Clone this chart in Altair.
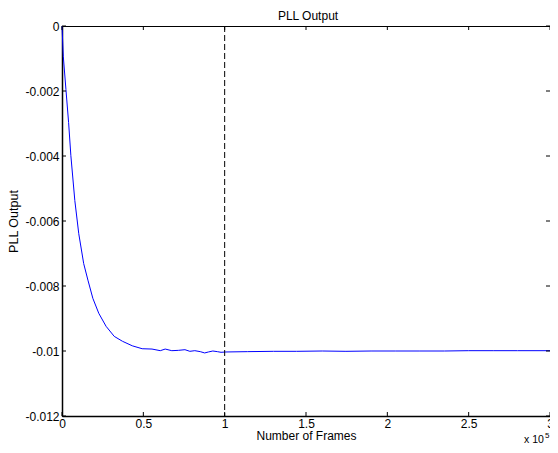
import altair as alt
import pandas as pd

# PLL output curve (frames, value)
frames = [0, 790, 2420, 4060, 5450, 7880, 10300, 13330, 15940, 18970, 22610,
          27090, 32120, 37150, 43210, 49270, 55330, 60420, 63450, 67500, 71520,
          75580, 78600, 81640, 85000, 87700, 90000, 92730, 95500, 97760, 100790,
          113940, 130000, 144240, 160000, 174550, 190000, 204850, 220000,
          235150, 250000, 265460, 280000, 300000]
values = [0.0, -0.00093, -0.00195, -0.00297, -0.00399, -0.00537, -0.00639,
          -0.00731, -0.00782, -0.00838, -0.00884, -0.00924, -0.00955, -0.00970,
          -0.00984, -0.00993, -0.00994, -0.00999, -0.00994, -0.00999, -0.00998,
          -0.00996, -0.01001, -0.00999, -0.01002, -0.01006, -0.01003, -0.01000,
          -0.01002, -0.01004, -0.01003, -0.01002, -0.01001, -0.01001, -0.01000,
          -0.01001, -0.01000, -0.01000, -0.01000, -0.01000, -0.00999, -0.00999,
          -0.00999, -0.00999]

x_ticks = [0, 50000, 100000, 150000, 200000, 250000, 300000]
y_ticks = [0, -0.002, -0.004, -0.006, -0.008, -0.010, -0.012]
marker_frame = [100000]
chart_title = ["PLL Output"]

FONT = "Liberation Sans"
W, H = 488, 390

xscale = alt.Scale(domain=[0, 300000], nice=False, zero=False)
yscale = alt.Scale(domain=[-0.012, 0], nice=False, zero=False)

df = pd.DataFrame({"frames": frames, "value": values})
xt = pd.DataFrame({"frames": x_ticks})
yt = pd.DataFrame({"value": y_ticks})
mk = pd.DataFrame({"frames": marker_frame})

xaxis = alt.Axis(values=x_ticks, tickSize=0, grid=False,
                 labelExpr="format(datum.value/100000, '~g')",
                 labelPadding=2, titlePadding=1,
                 domainColor="black", domainWidth=1.5,
                 labelColor="black", titleColor="black",
                 labelFont=FONT, titleFont=FONT, labelFontSize=12,
                 titleFontSize=12, titleFontWeight="normal",
                 labelFlush=False, labelOverlap=False)
yaxis = alt.Axis(values=y_ticks, tickSize=0, grid=False,
                 labelExpr="datum.value == 0 ? '0' : '-' + format(abs(datum.value), '.3~f')",
                 labelPadding=3, titlePadding=4,
                 domainColor="black", domainWidth=1.5,
                 labelColor="black", titleColor="black",
                 labelFont=FONT, titleFont=FONT, labelFontSize=12,
                 titleFontSize=12.5, titleFontWeight="normal",
                 labelFlush=False, labelOverlap=False)

X = lambda: alt.X("frames:Q", scale=xscale, title="Number of Frames", axis=xaxis)
Y = lambda: alt.Y("value:Q", scale=yscale, title="PLL Output", axis=yaxis)

line = alt.Chart(df).mark_line(color="#0000ff", strokeWidth=1).encode(x=X(), y=Y())

marker = alt.Chart(mk).mark_rule(color="black", strokeWidth=1, strokeDash=[6, 3]).encode(x=X())

xb = alt.Chart(xt).mark_rule(color="black", strokeWidth=1).encode(
    x=X(), y=alt.value(H), y2=alt.value(H - 4))
xtop = alt.Chart(xt).mark_rule(color="black", strokeWidth=1).encode(
    x=X(), y=alt.value(0), y2=alt.value(4))
yl = alt.Chart(yt).mark_rule(color="black", strokeWidth=1).encode(
    y=Y(), x=alt.value(0), x2=alt.value(4))
yr = alt.Chart(yt).mark_rule(color="black", strokeWidth=1).encode(
    y=Y(), x=alt.value(W), x2=alt.value(W - 4))

title_txt = alt.Chart(pd.DataFrame({"s": chart_title})).mark_text(
    font=FONT, fontSize=12, align="center", baseline="alphabetic", color="black").encode(
    text="s:N", x=alt.value(W / 2 + 2), y=alt.value(-6))
exp_base = alt.Chart(pd.DataFrame({"s": ["x 10"]})).mark_text(
    font=FONT, fontSize=10.5, align="left", baseline="alphabetic", color="black").encode(
    text="s:N", x=alt.value(W - 26), y=alt.value(H + 27))
exp_sup = alt.Chart(pd.DataFrame({"s": ["5"]})).mark_text(
    font=FONT, fontSize=8, align="left", baseline="alphabetic", color="black").encode(
    text="s:N", x=alt.value(W - 5), y=alt.value(H + 22))

chart = alt.layer(line, marker, xb, xtop, yl, yr, title_txt, exp_base, exp_sup).properties(
    width=W, height=H,
    autosize="none",
    padding={"left": 54, "top": 18, "right": 0, "bottom": 29},
    background="white",
).configure_view(stroke="black", strokeWidth=1)

chart.save("out.html", embed_options={"renderer": "svg", "actions": False})
